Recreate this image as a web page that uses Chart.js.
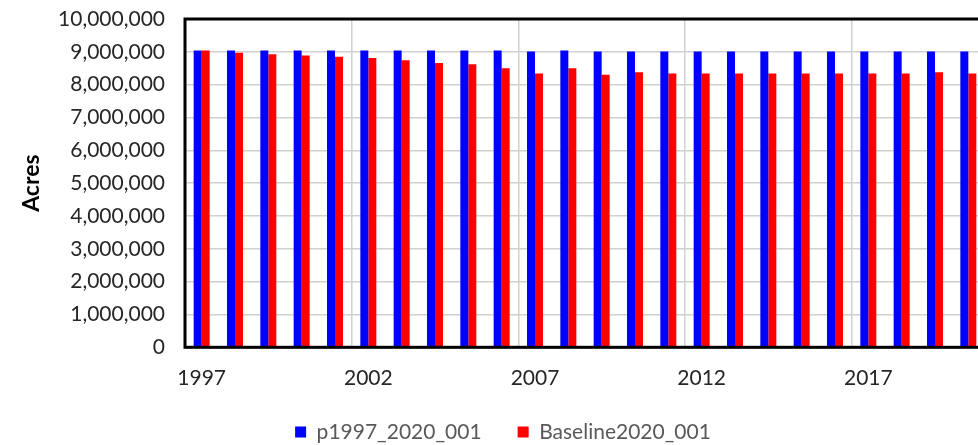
<!DOCTYPE html>
<html><head><meta charset="utf-8">
<script src="https://cdn.jsdelivr.net/npm/chart.js@4"></script>
<style>html,body{margin:0;padding:0;overflow:hidden;background:#fff;} #wrap{width:1006px;height:445px;}</style>
</head><body><div id="wrap"><canvas id="c" width="1006" height="445"></canvas></div>
<script>
const years = ['1997','1998','1999','2000','2001','2002','2003','2004','2005','2006','2007','2008','2009','2010','2011','2012','2013','2014','2015','2016','2017','2018','2019','2020'];
const labeledYears = ['1997','2002','2007','2012','2017'];
const seriesNames = ['p1997_2020_001','Baseline2020_001'];
const p1997 = [9040000,9040000,9040000,9040000,9040000,9040000,9040000,9040000,9040000,9040000,9010000,9040000,9010000,9010000,9010000,9010000,9010000,9010000,9010000,9010000,9010000,9010000,9010000,9010000];
const baseline = [9040000,8970000,8930000,8890000,8850000,8810000,8740000,8660000,8620000,8500000,8340000,8500000,8300000,8380000,8340000,8340000,8340000,8340000,8340000,8340000,8340000,8340000,8380000,8340000];
const yMin = 0, yMax = 10000000, yStep = 1000000;

const FONT = 'Lato';
const frame = {
  id: 'frame',
  afterDatasetsDraw(chart) {
    const {ctx, chartArea: a} = chart;
    ctx.save();
    ctx.strokeStyle = '#000';
    ctx.lineWidth = 3;
    ctx.strokeRect(a.left, a.top, a.right - a.left, a.bottom - a.top);
    ctx.restore();
  }
};

new Chart(document.getElementById('c'), {
  type: 'bar',
  data: {
    labels: years,
    datasets: [
      {label: seriesNames[0], data: p1997, backgroundColor: '#0000ff', categoryPercentage: 0.48, barPercentage: 1},
      {label: seriesNames[1], data: baseline, backgroundColor: '#ff0000', categoryPercentage: 0.48, barPercentage: 1}
    ]
  },
  options: {
    responsive: false,
    animation: false,
    devicePixelRatio: 1,
    layout: {padding: {left: 0, right: 0, top: 19, bottom: 0}},
    plugins: {
      legend: {
        position: 'bottom',
        maxHeight: 59.5,
        labels: {boxWidth: 11, boxHeight: 11, padding: 36, color: '#595959', font: {family: FONT, size: 21}}
      },
      tooltip: {enabled: false}
    },
    scales: {
      x: {
        grid: {offset: true, drawTicks: false, lineWidth: 1.5,
          color: c => (c.index % 5 === 0 && c.index > 0) ? '#d0d0d0' : 'rgba(0,0,0,0)'},
        border: {display: false},
        ticks: {autoSkip: false, maxRotation: 0, minRotation: 0, padding: 18, color: '#262626',
          font: {family: FONT, size: 21},
          callback: (v, i) => labeledYears.includes(years[i]) ? years[i] : ''},
        afterFit: s => { s.height = 38.2; }
      },
      y: {
        min: yMin, max: yMax,
        grid: {drawTicks: true, tickLength: 20, tickColor: 'rgba(0,0,0,0)', color: '#d0d0d0', lineWidth: 1.5},
        border: {display: false},
        ticks: {stepSize: yStep, padding: 0, color: '#262626', font: {family: FONT, size: 21},
          callback: v => Number(v).toLocaleString('en-US')},
        title: {display: true, text: 'Acres', color: '#000', font: {family: FONT, size: 23, weight: 'bold'},
          padding: {top: 18, bottom: 0}},
        afterFit: s => { s.width = 185; }
      },
      y2: {
        position: 'right', display: true,
        grid: {display: false}, border: {display: false}, ticks: {display: false},
        afterFit: s => { s.width = 21; }
      }
    }
  },
  plugins: [frame]
});
</script>
</body></html>
